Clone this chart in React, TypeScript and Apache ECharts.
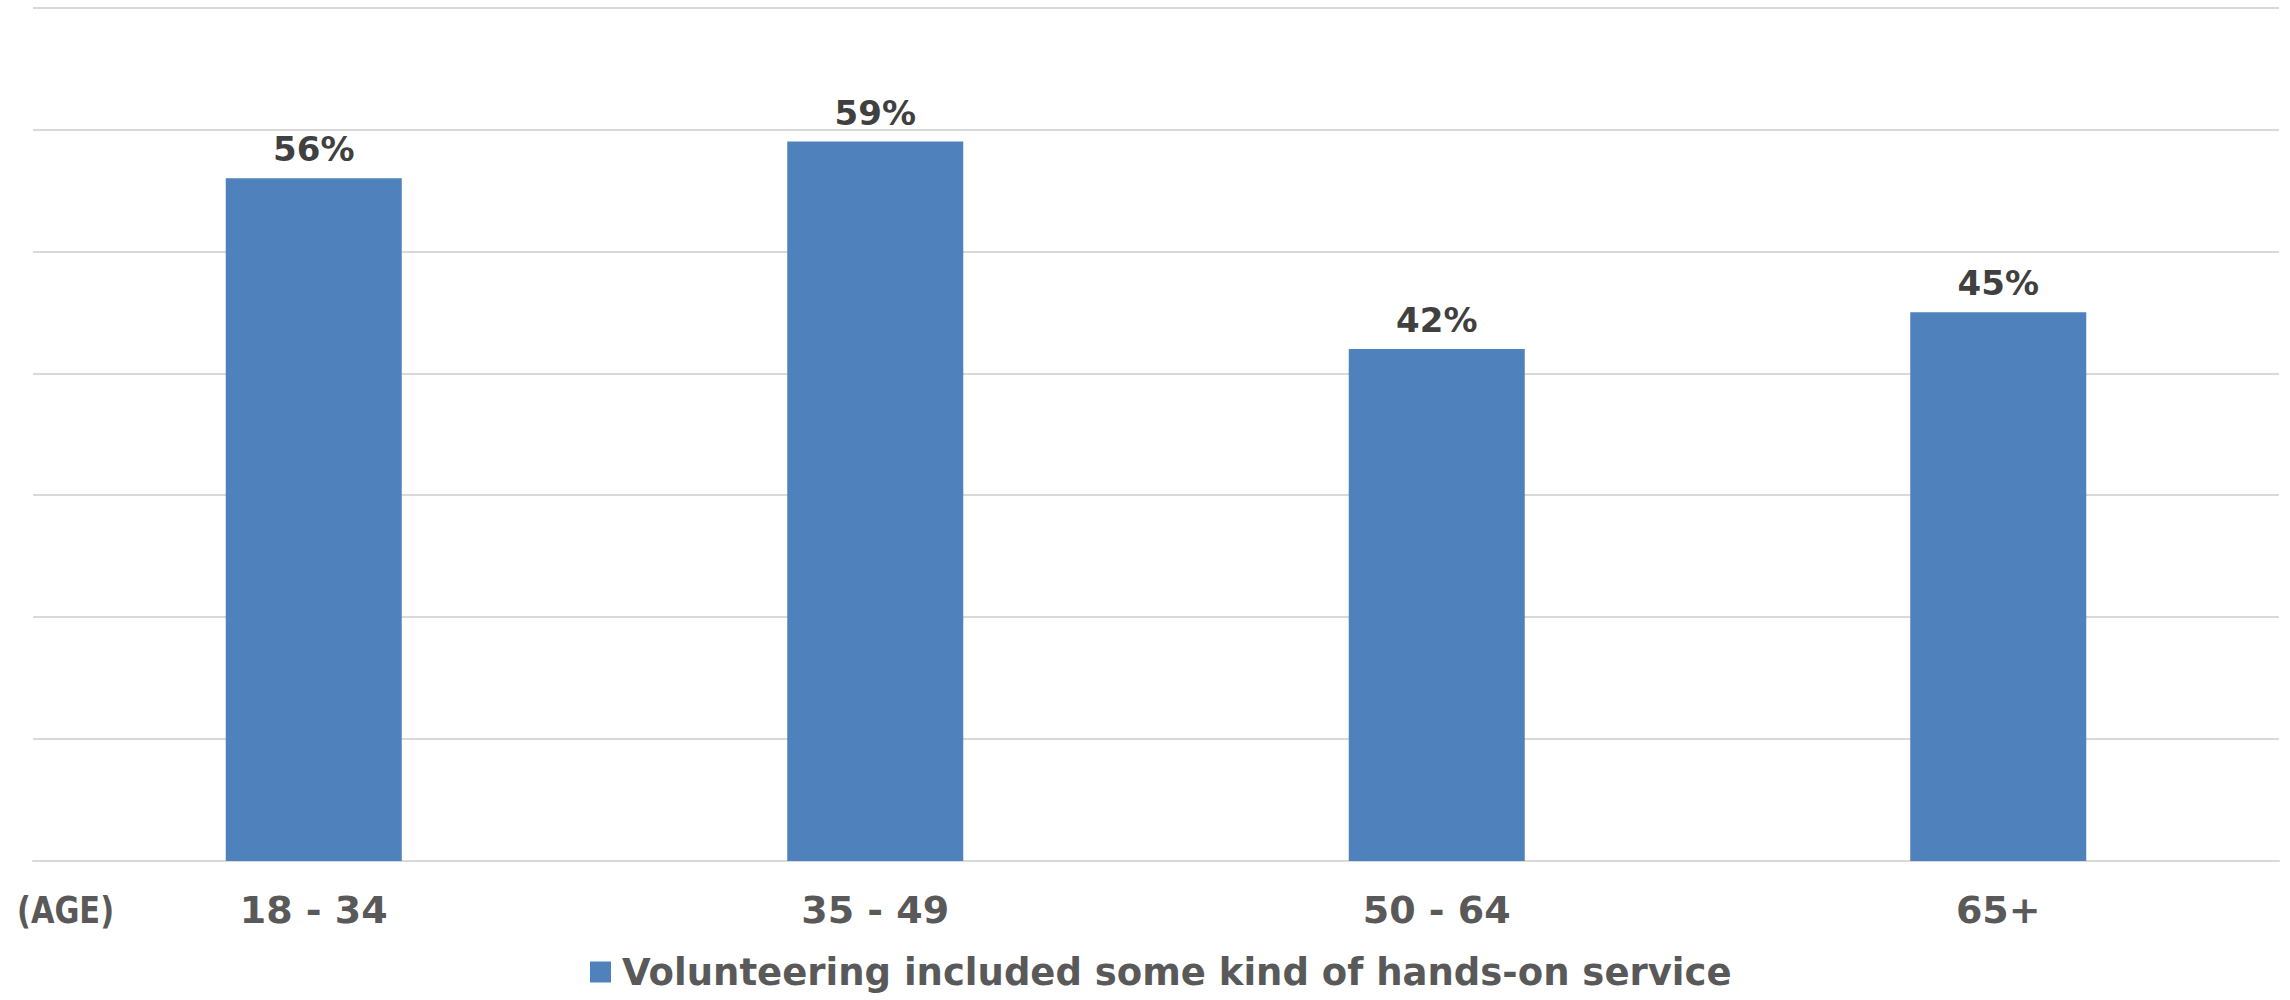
import React, { useEffect, useRef } from "react";
import * as echarts from "echarts";

const categories = ["18 - 34", "35 - 49", "50 - 64", "65+"];
const values = [56, 59, 42, 45];
const seriesName = "Volunteering included some kind of hands-on service";
const axisTitle = "(AGE)";

export default function App() {
  const ref = useRef<HTMLDivElement>(null);
  useEffect(() => {
    document.body.style.margin = "0";
    const chart = echarts.init(ref.current!, null, { renderer: "svg" });
    const font = "'DejaVu Sans', Verdana, sans-serif";
    chart.setOption({
      animation: false,
      backgroundColor: "#ffffff",
      grid: { left: 33, right: 11, top: 7.5, bottom: 139, containLabel: false },
      legend: {
        data: [seriesName],
        left: 590,
        top: 952,
        padding: 0,
        itemWidth: 21,
        itemHeight: 21,
        icon: "rect",
        textStyle: { color: "#595959", fontFamily: font, fontWeight: "bold", fontSize: 37, lineHeight: 40, padding: [0, 0, 0, 6] },
      },
      xAxis: {
        type: "category",
        data: categories,
        axisLine: { lineStyle: { color: "#d9d9d9", width: 2 } },
        axisTick: { show: false },
        axisLabel: { color: "#595959", fontFamily: font, fontWeight: "bold", fontSize: 38, margin: 30 },
      },
      yAxis: {
        type: "value",
        min: 0,
        max: 70,
        interval: 10,
        axisLabel: { show: false },
        axisLine: { show: false },
        axisTick: { show: false },
        splitLine: { lineStyle: { color: "#d9d9d9", width: 2 } },
      },
      series: [
        {
          name: seriesName,
          type: "bar",
          data: values,
          barWidth: 176,
          itemStyle: { color: "#4f81bd" },
          label: {
            show: true,
            position: "top",
            distance: 12,
            formatter: "{c}%",
            color: "#404040",
            fontFamily: font,
            fontWeight: "bold",
            fontSize: 34,
          },
        },
      ],
      graphic: [
        {
          type: "text",
          left: 17,
          top: 891,
          scaleX: 0.8,
          style: { text: axisTitle, fill: "#595959", font: `bold 38px ${font}` },
        },
      ],
    });
    return () => chart.dispose();
  }, []);
  return <div ref={ref} style={{ position: "fixed", left: 0, top: 0, width: 2290, height: 1000 }} />;
}
